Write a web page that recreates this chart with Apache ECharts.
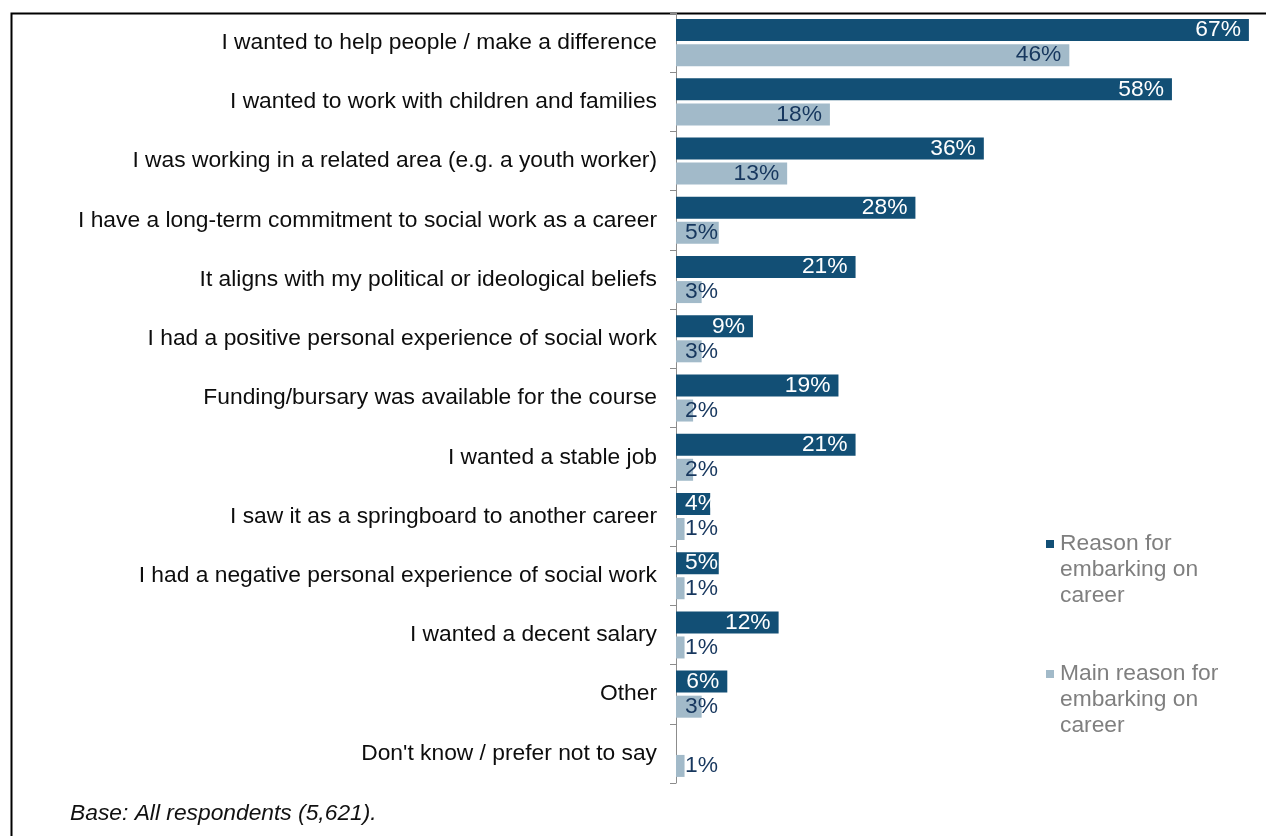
<!DOCTYPE html>
<html>
<head>
<meta charset="utf-8">
<script src="https://cdn.jsdelivr.net/npm/echarts@6/dist/echarts.min.js"></script>
<style>
html,body{margin:0;padding:0;background:#fff;}
#chart{width:1266px;height:836px;}
</style>
</head>
<body>
<div id="chart"></div>
<script>
const categories = [
  'I wanted to help people / make a difference',
  'I wanted to work with children and families',
  'I was working in a related area (e.g. a youth worker)',
  'I have a long-term commitment to social work as a career',
  'It aligns with my political or ideological beliefs',
  'I had a positive personal experience of social work',
  'Funding/bursary was available for the course',
  'I wanted a stable job',
  'I saw it as a springboard to another career',
  'I had a negative personal experience of social work',
  'I wanted a decent salary',
  'Other',
  "Don't know / prefer not to say"
];
const reasonValues = [67, 58, 36, 28, 21, 9, 19, 21, 4, 5, 12, 6, null];
const mainReasonValues = [46, 18, 13, 5, 3, 3, 2, 2, 1, 1, 1, 3, 1];
const seriesNames = ['Reason for embarking on career', 'Main reason for embarking on career'];
const legendLabels = ['Reason for\nembarking on\ncareer', 'Main reason for\nembarking on\ncareer'];
const footnote = 'Base: All respondents (5,621).';

const FONT = "'Liberation Sans', Arial, sans-serif";
const FS = 22.8;
const DARK = '#124f75';
const LIGHT = '#a2bac9';

function withLabels(values) {
  return values.map(v => {
    if (v == null) return { value: null };
    const small = v <= 5;
    return {
      value: v,
      label: small
        ? { position: 'insideLeft', distance: 9 }
        : { position: 'insideRight', distance: 8 }
    };
  });
}

const chart = echarts.init(document.getElementById('chart'), null, { renderer: 'canvas' });
const option = {
  animation: false,
  backgroundColor: '#fff',
  textStyle: { fontFamily: FONT },
  grid: { left: 676, top: 13, right: 0, height: 770, containLabel: false },
  xAxis: {
    type: 'value', min: 0, max: 69,
    axisLine: { show: false }, axisTick: { show: false },
    axisLabel: { show: false }, splitLine: { show: false }
  },
  yAxis: {
    type: 'category', inverse: true, data: categories,
    axisLine: { show: true, lineStyle: { color: '#8c8c8c', width: 1 } },
    axisTick: { show: true, length: 6, lineStyle: { color: '#8c8c8c' } },
    axisLabel: { margin: 19, fontSize: FS, color: '#0d0d0d', fontFamily: FONT }
  },
  legend: {
    orient: 'vertical',
    left: 1046, top: 531,
    itemWidth: 8, itemHeight: 78, itemGap: 52,
    padding: 0,
    icon: 'path://M0,9h8v8h-8z M0,0h0.01v0.01h-0.01z M7.99,77.99h0.01v0.01h-0.01z',
    formatter: name => legendLabels[seriesNames.indexOf(name)],
    textStyle: { fontSize: FS, lineHeight: 26, color: '#7f7f7f', fontFamily: FONT, padding: [0, 0, 0, 1] },
    data: seriesNames
  },
  series: [
    {
      name: seriesNames[0], type: 'bar', barWidth: 22, barGap: '14%',
      itemStyle: { color: DARK },
      label: { show: true, formatter: p => p.value + '%', fontSize: FS, color: '#ffffff', fontFamily: FONT },
      data: withLabels(reasonValues)
    },
    {
      name: seriesNames[1], type: 'bar', barWidth: 22, barGap: '14%',
      itemStyle: { color: LIGHT },
      label: { show: true, formatter: p => p.value + '%', fontSize: FS, color: '#17375e', fontFamily: FONT },
      data: withLabels(mainReasonValues)
    }
  ],
  graphic: [
    { type: 'rect', left: 9, top: 11, silent: true,
      shape: { x: 0, y: 0, width: 1400, height: 1000 },
      style: { fill: 'none', stroke: '#000', lineWidth: 2 } },
    { type: 'text', left: 70, top: 802, silent: true,
      style: { text: footnote, fontSize: FS, fontStyle: 'italic', fill: '#111', fontFamily: FONT } }
  ]
};
chart.setOption(option);
</script>
</body>
</html>
